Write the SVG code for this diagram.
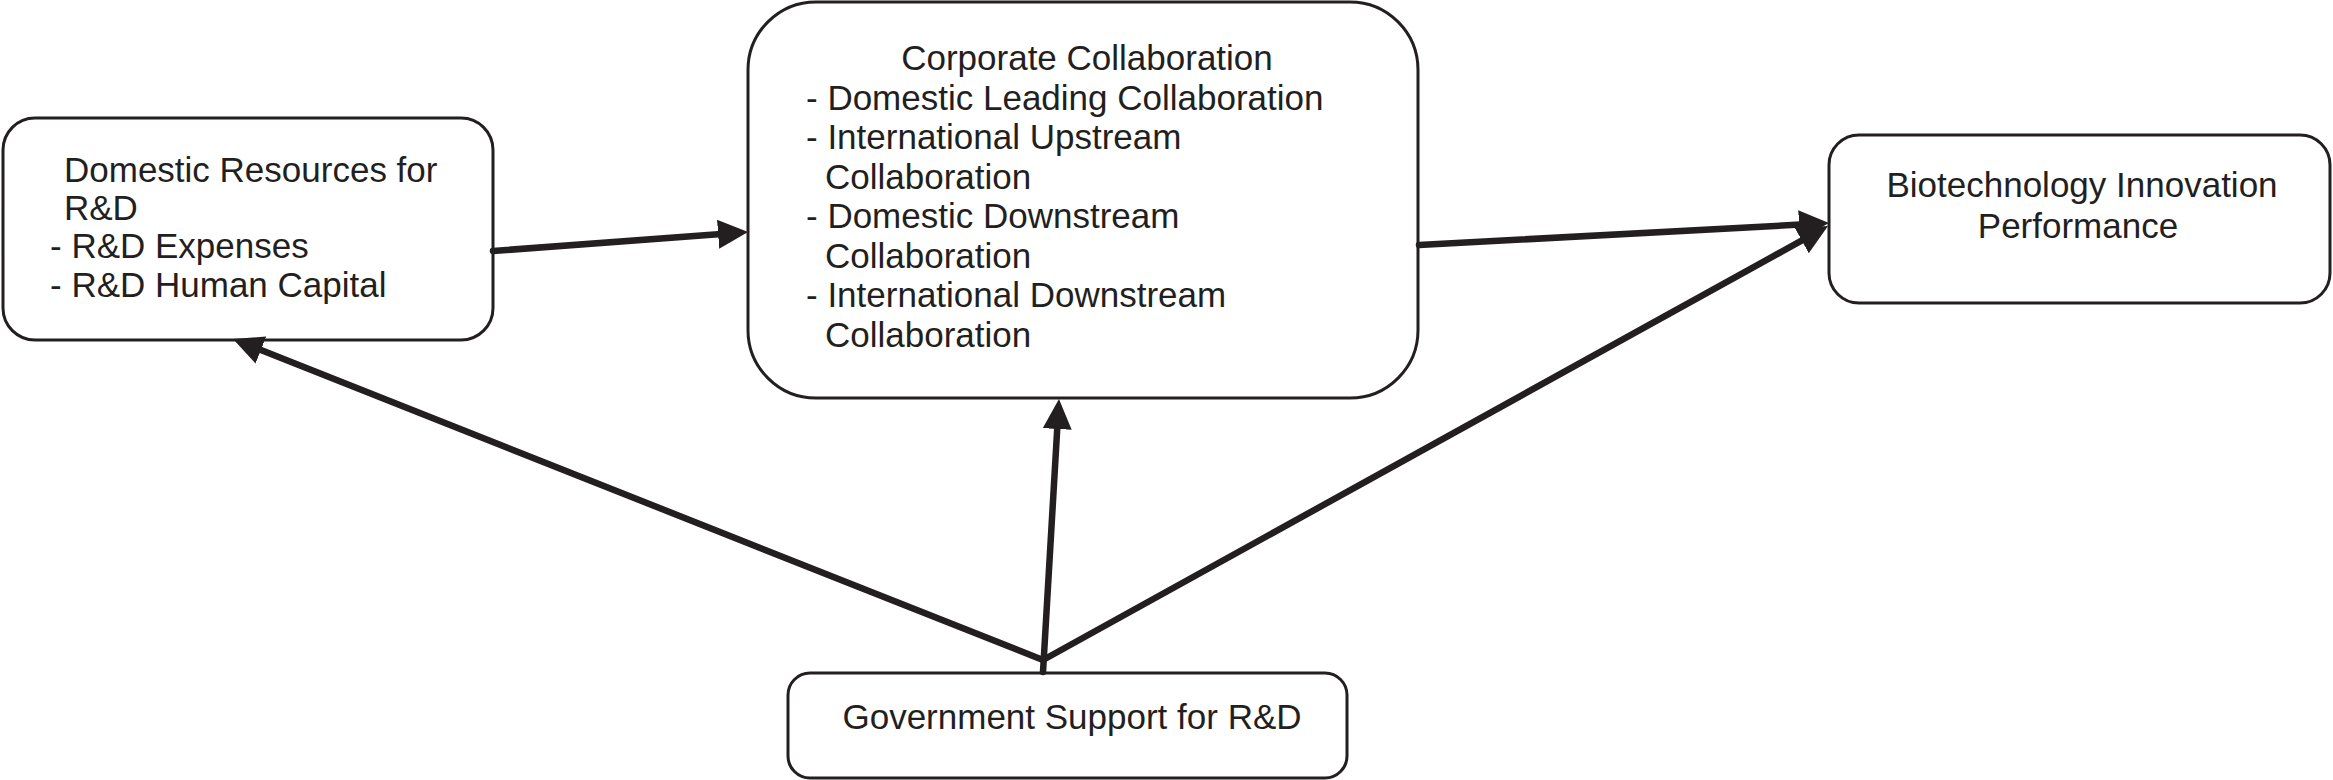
<svg xmlns="http://www.w3.org/2000/svg" width="2333" height="780" viewBox="0 0 2333 780">
<style>
.box{fill:#fff;stroke:#231f20;stroke-width:3}
.t{font-family:"Liberation Sans",Arial,sans-serif;font-size:35px;fill:#231f20}
.c{text-anchor:middle}
.ln{stroke:#231f20;stroke-width:6.5;stroke-linecap:round;fill:none;marker-end:url(#ah)}
</style>
<defs>
<marker id="ah" markerUnits="userSpaceOnUse" markerWidth="30" markerHeight="29" refX="10" refY="14.5" orient="auto" viewBox="0 0 30 29">
<path d="M0,0 L30,14.5 L0,29 z" fill="#231f20"/>
</marker>
</defs>
<rect width="2333" height="780" fill="#fff"/>
<g id="node-domestic">
<rect class="box" x="3" y="118" width="490" height="222" rx="32"/>
<text class="t" x="64" y="182">Domestic Resources for</text>
<text class="t" x="64" y="220">R&amp;D</text>
<text class="t" x="50" y="258">- R&amp;D Expenses</text>
<text class="t" x="50" y="297">- R&amp;D Human Capital</text>
</g>
<g id="node-corporate">
<rect class="box" x="748" y="2" width="670" height="396" rx="68"/>
<text class="t c" x="1087" y="70">Corporate Collaboration</text>
<text class="t" x="806" y="110">- Domestic Leading Collaboration</text>
<text class="t" x="806" y="149">- International Upstream</text>
<text class="t" x="825" y="189">Collaboration</text>
<text class="t" x="806" y="228">- Domestic Downstream</text>
<text class="t" x="825" y="268">Collaboration</text>
<text class="t" x="806" y="307">- International Downstream</text>
<text class="t" x="825" y="347">Collaboration</text>
</g>
<g id="node-biotech">
<rect class="box" x="1829" y="135" width="501" height="168" rx="30"/>
<text class="t c" x="2082" y="197">Biotechnology Innovation</text>
<text class="t c" x="2078" y="238">Performance</text>
</g>
<g id="node-government">
<rect class="box" x="788" y="673" width="559" height="105" rx="22"/>
<text class="t c" x="1072" y="729">Government Support for R&amp;D</text>
</g>
<g id="connectors">
<line class="ln" x1="493" y1="251" x2="728.1" y2="233.5"/>
<line class="ln" x1="1419" y1="245" x2="1809" y2="224.1"/>
<line class="ln" x1="1043" y1="672" x2="1057.8" y2="419"/>
<line class="ln" x1="1043" y1="660" x2="251.6" y2="346.4"/>
<line class="ln" x1="1043" y1="660" x2="1810.5" y2="235.7"/>
</g>
</svg>
